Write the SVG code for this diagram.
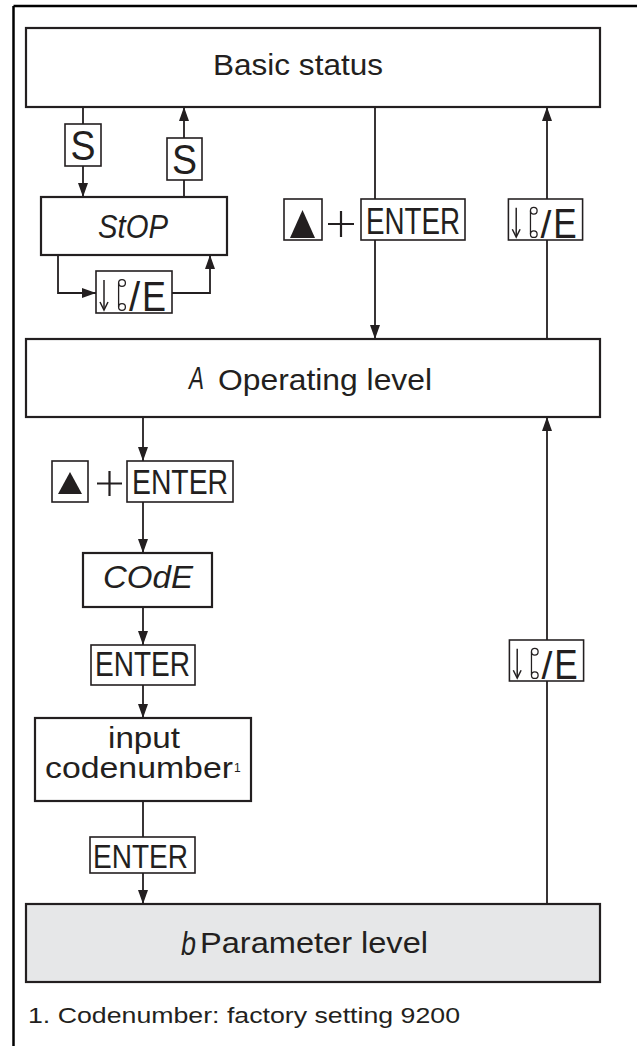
<svg xmlns="http://www.w3.org/2000/svg" xmlns:xlink="http://www.w3.org/1999/xlink" width="637" height="1046" viewBox="0 0 637 1046">
<style>
.box{fill:#fff;stroke:#231f20;stroke-width:2.2}
.gray{fill:#e6e7e8}
.key{fill:#fff;stroke:#231f20;stroke-width:1.6}
.t{font-family:"Liberation Sans",Arial,sans-serif;fill:#231f20}
.seg{font-family:"Liberation Sans",Arial,sans-serif;font-style:italic;fill:#231f20}
.ln{fill:none;stroke:#231f20;stroke-width:1.8}
.arr{marker-end:url(#ah)}
</style>
<defs>
<marker id="ah" markerUnits="userSpaceOnUse" markerWidth="15" markerHeight="11" refX="14" refY="5" orient="auto">
<path d="M0,0 L14,5 L0,10 z" fill="#231f20"/>
</marker>
<symbol id="keyicon" viewBox="0 0 76 42" width="76" height="42" overflow="visible">
<rect x="0" y="0" width="76" height="42" class="key"/>
<line x1="8" y1="9" x2="8" y2="38" stroke="#231f20" stroke-width="1.5"/>
<polyline points="4,31 8,39 12,31" fill="none" stroke="#231f20" stroke-width="1.5"/>
<circle cx="26" cy="12" r="3.4" fill="none" stroke="#231f20" stroke-width="1.3"/>
<circle cx="26" cy="36" r="3.4" fill="none" stroke="#231f20" stroke-width="1.3"/>
<line x1="22.6" y1="12" x2="22.6" y2="36" stroke="#231f20" stroke-width="1.3"/>
<text x="33" y="40" class="t" font-size="40">/</text>
<text x="46" y="40" class="t" font-size="43" textLength="24" lengthAdjust="spacingAndGlyphs">E</text>
</symbol>
</defs>
<rect width="637" height="1046" fill="#fff"/>
<g id="frame">
<line x1="13.5" y1="6" x2="637" y2="6" stroke="#000" stroke-width="2.5"/>
<line x1="13.5" y1="6" x2="13.5" y2="1046" stroke="#000" stroke-width="2.5"/>
</g>
<g id="connectors">
<line class="ln" x1="83" y1="107" x2="83" y2="124"/>
<line class="ln arr" x1="83" y1="166" x2="83" y2="197"/>
<line class="ln" x1="184" y1="197" x2="184" y2="180"/>
<line class="ln arr" x1="184" y1="138" x2="184" y2="107"/>
<polyline class="ln arr" points="58,255 58,293 96,293"/>
<polyline class="ln arr" points="172,293 210,293 210,255"/>
<line class="ln" x1="375" y1="107" x2="375" y2="199"/>
<line class="ln arr" x1="375" y1="240" x2="375" y2="339"/>
<line class="ln" x1="547" y1="339" x2="547" y2="240"/>
<line class="ln arr" x1="547" y1="199" x2="547" y2="107"/>
<line class="ln arr" x1="143" y1="417" x2="143" y2="461"/>
<line class="ln arr" x1="143" y1="502" x2="143" y2="553"/>
<line class="ln arr" x1="143" y1="607" x2="143" y2="645"/>
<line class="ln arr" x1="143" y1="685" x2="143" y2="718"/>
<line class="ln" x1="143" y1="801" x2="143" y2="837"/>
<line class="ln arr" x1="143" y1="873" x2="143" y2="904"/>
<line class="ln" x1="547" y1="904" x2="547" y2="681"/>
<line class="ln arr" x1="547" y1="640" x2="547" y2="417"/>
</g>
<g id="basic-status">
<rect class="box" x="26" y="28" width="574" height="79"/>
<text class="t" x="213" y="75" font-size="29" textLength="170" lengthAdjust="spacingAndGlyphs">Basic status</text>
</g>
<g id="key-s-down">
<rect class="key" x="65" y="124" width="36" height="42"/>
<text class="t" x="83" y="160" font-size="42" text-anchor="middle" textLength="25" lengthAdjust="spacingAndGlyphs">S</text>
</g>
<g id="key-s-up">
<rect class="key" x="167" y="138" width="35" height="42"/>
<text class="t" x="184.5" y="174" font-size="42" text-anchor="middle" textLength="25" lengthAdjust="spacingAndGlyphs">S</text>
</g>
<g id="stop">
<rect class="box" x="41" y="197" width="186" height="58"/>
<text class="seg" x="98" y="238" font-size="34" textLength="70" lengthAdjust="spacingAndGlyphs">StOP</text>
</g>
<g id="key-stop-loop">
<use xlink:href="#keyicon" x="96" y="271"/>
</g>
<g id="key-up-enter-1">
<rect class="key" x="284" y="199" width="38" height="41"/>
<polygon points="290,238 315,238 302.5,210" fill="#231f20"/>
<path d="M328,224 H354 M341,211 V237" stroke="#231f20" stroke-width="2.2" fill="none"/>
<rect class="key" x="361" y="199" width="104" height="41"/>
<text class="t" x="366" y="234" font-size="36" textLength="94" lengthAdjust="spacingAndGlyphs">ENTER</text>
</g>
<g id="key-back-1">
<use xlink:href="#keyicon" x="508" y="199" width="75" height="41"/>
</g>
<g id="operating-level">
<rect class="box" x="26" y="339" width="574" height="78"/>
<text class="seg" x="189" y="389" font-size="31" textLength="15" lengthAdjust="spacingAndGlyphs">A</text>
<text class="t" x="218" y="390" font-size="29" textLength="214" lengthAdjust="spacingAndGlyphs">Operating level</text>
</g>
<g id="key-up-enter-2">
<rect class="key" x="52" y="461" width="36" height="41"/>
<polygon points="58,494 82,494 70,472" fill="#231f20"/>
<path d="M97,483.5 H122 M109.5,471 V496" stroke="#231f20" stroke-width="2.2" fill="none"/>
<rect class="key" x="127" y="461" width="106" height="41"/>
<text class="t" x="132" y="494" font-size="35" textLength="96" lengthAdjust="spacingAndGlyphs">ENTER</text>
</g>
<g id="code">
<rect class="box" x="83" y="553" width="129" height="54"/>
<text class="seg" x="103" y="588" font-size="32" textLength="90" lengthAdjust="spacingAndGlyphs">COdE</text>
</g>
<g id="key-enter-1">
<rect class="key" x="91" y="645" width="104" height="40"/>
<text class="t" x="95" y="676" font-size="35" textLength="95" lengthAdjust="spacingAndGlyphs">ENTER</text>
</g>
<g id="input-codenumber">
<rect class="box" x="35" y="718" width="216" height="83"/>
<text class="t" x="108" y="748" font-size="29" textLength="72" lengthAdjust="spacingAndGlyphs">input</text>
<text class="t" x="45" y="778" font-size="29" textLength="188" lengthAdjust="spacingAndGlyphs">codenumber</text>
<text class="t" x="234" y="772" font-size="12">1</text>
</g>
<g id="key-enter-2">
<rect class="key" x="90" y="837" width="105" height="36"/>
<text class="t" x="93" y="868" font-size="34" textLength="95" lengthAdjust="spacingAndGlyphs">ENTER</text>
</g>
<g id="key-back-2">
<use xlink:href="#keyicon" x="508" y="640" width="77" height="41"/>
</g>
<g id="parameter-level">
<rect class="box gray" x="26" y="904" width="574" height="78"/>
<text class="seg" x="181" y="955" font-size="34" textLength="15" lengthAdjust="spacingAndGlyphs">b</text>
<text class="t" x="200" y="953" font-size="29" textLength="228" lengthAdjust="spacingAndGlyphs">Parameter level</text>
</g>
<g id="footnote">
<text class="t" x="28" y="1023" font-size="22" textLength="432" lengthAdjust="spacingAndGlyphs">1. Codenumber: factory setting 9200</text>
</g>
</svg>
